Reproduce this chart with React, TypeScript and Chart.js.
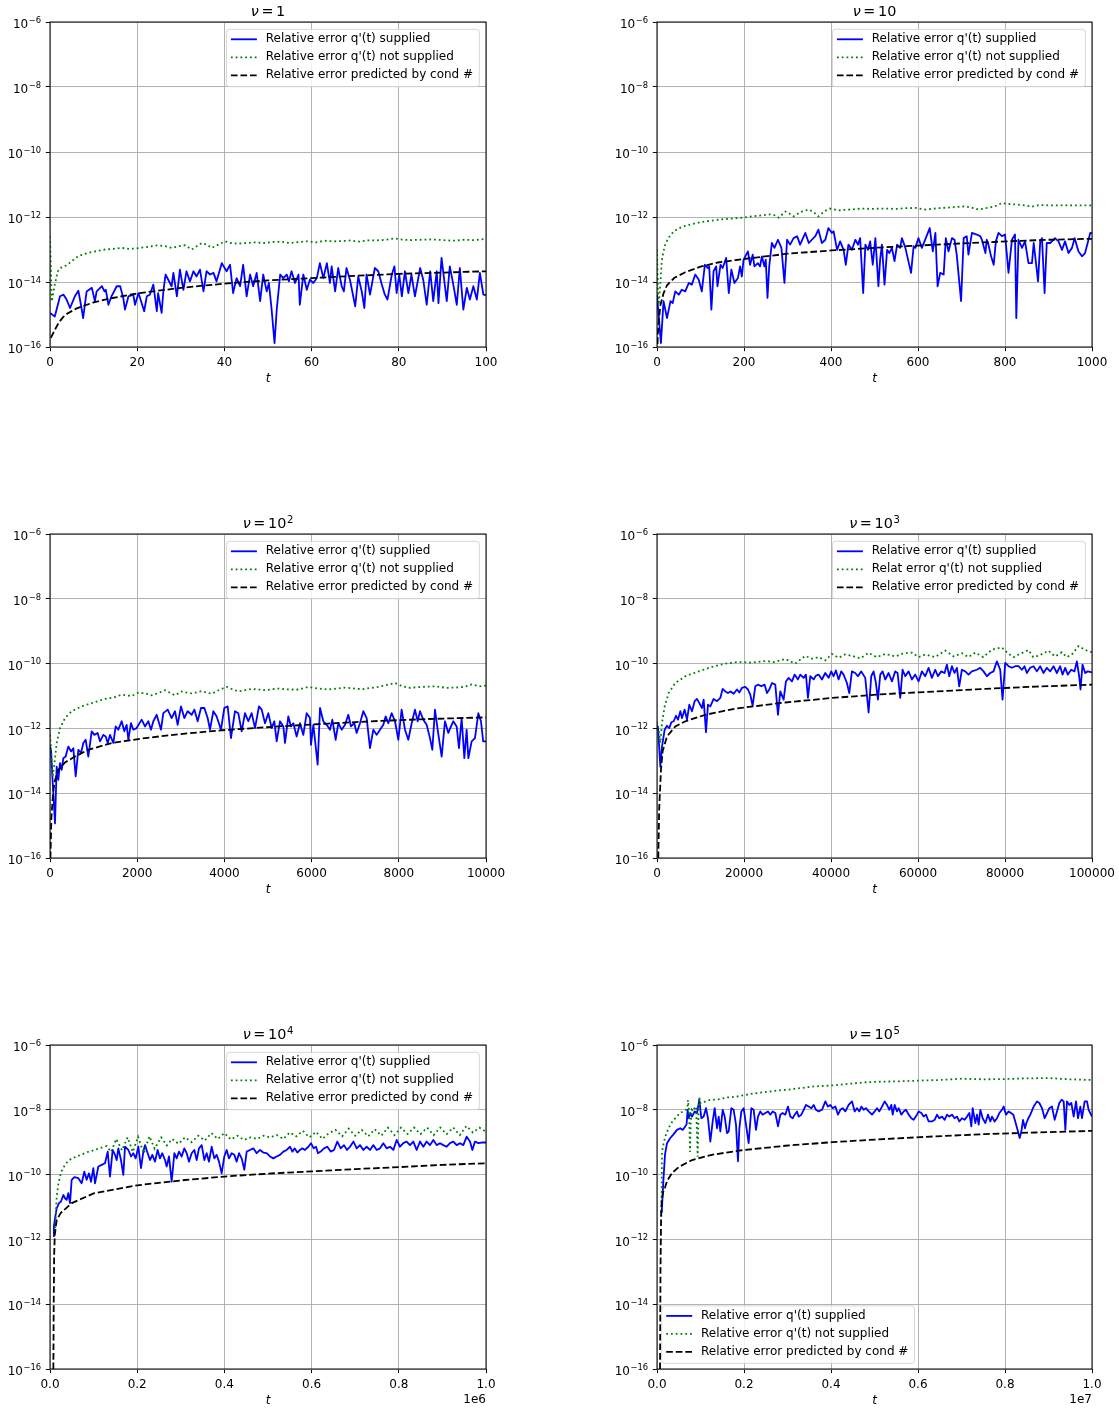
import React, { useEffect, useRef } from "react";
import { Chart, registerables } from "chart.js";

Chart.register(...registerables);

type Pt = [number, number]; // [t, log10(relative error)]

// ---------------- ticks, labels, titles ----------------
const yTickExponents = [-16, -14, -12, -10, -8, -6];

const xTicksNu0 = [0, 20, 40, 60, 80, 100];
const xLabelsNu0 = ["0", "20", "40", "60", "80", "100"];
const xTicksNu1 = [0, 200, 400, 600, 800, 1000];
const xLabelsNu1 = ["0", "200", "400", "600", "800", "1000"];
const xTicksNu2 = [0, 2000, 4000, 6000, 8000, 10000];
const xLabelsNu2 = ["0", "2000", "4000", "6000", "8000", "10000"];
const xTicksNu3 = [0, 20000, 40000, 60000, 80000, 100000];
const xLabelsNu3 = ["0", "20000", "40000", "60000", "80000", "100000"];
const xTicksNu4 = [0, 200000, 400000, 600000, 800000, 1000000];
const xLabelsNu4 = ["0.0", "0.2", "0.4", "0.6", "0.8", "1.0"];
const xTicksNu5 = [0, 2000000, 4000000, 6000000, 8000000, 10000000];
const xLabelsNu5 = ["0.0", "0.2", "0.4", "0.6", "0.8", "1.0"];
const xOffsetLabels = ["", "", "", "", "1e6", "1e7"];

const titleBases = ["1", "10", "10", "10", "10", "10"];
const titleExponents = ["", "", "2", "3", "4", "5"];

const legendLabels = [
  "Relative error q'(t) supplied",
  "Relative error q'(t) not supplied",
  "Relative error predicted by cond #",
];
const legendLabelsNu3 = [
  "Relative error q'(t) supplied",
  "Relat error q'(t) not supplied",
  "Relative error predicted by cond #",
];

// ---------------- nu = 1 ----------------
const nu1Supplied: Pt[] = [
  [0, -14.95], [1.1, -15.06], [2.3, -14.44], [3.1, -14.39], [3.8, -14.54], [4.6, -14.8], [5.7, -14.44], [6.5, -14.27],
  [7.1, -14.7], [7.6, -15.11], [8.4, -14.29], [9.6, -14.18], [10.3, -14.59], [10.7, -14.29], [11.9, -14.13], [12.5, -14.29],
  [12.8, -14.24], [13.4, -14.7], [14.1, -14.44], [15.3, -14.13], [16.1, -14.13], [16.8, -14.49], [17.2, -14.85], [18.0, -14.44],
  [19.1, -14.39], [19.5, -14.7], [20.3, -14.34], [21.6, -14.9], [22.2, -14.44], [22.9, -14.39], [23.7, -14.08], [24.5, -14.9],
  [24.8, -14.34], [25.6, -14.95], [26.0, -14.29], [26.5, -13.77], [27.5, -14.03], [27.9, -14.13], [28.3, -13.72], [29.1, -14.44],
  [29.8, -13.62], [30.6, -14.24], [31.3, -13.67], [32.1, -13.98], [32.9, -13.67], [33.6, -13.83], [34.4, -13.62], [35.2, -14.29],
  [35.9, -13.67], [36.7, -13.77], [37.5, -13.72], [38.2, -13.98], [39.4, -13.42], [40.5, -13.67], [41.3, -13.47], [42.0, -14.34],
  [42.8, -13.88], [43.6, -14.13], [44.3, -13.47], [45.1, -14.44], [45.9, -13.77], [46.6, -14.13], [47.4, -13.72], [48.2, -14.59],
  [48.9, -13.77], [49.7, -14.29], [50.2, -14.03], [50.8, -14.8], [51.5, -15.88], [52.0, -14.85], [52.8, -13.77], [53.5, -13.88],
  [54.3, -13.77], [54.8, -13.98], [55.4, -13.67], [56.2, -14.03], [57.0, -13.77], [57.3, -14.7], [58.1, -13.77], [58.9, -14.24],
  [59.6, -13.93], [60.4, -14.03], [61.2, -13.88], [61.9, -13.42], [62.7, -13.88], [63.5, -13.42], [64.2, -14.03], [64.6, -13.52],
  [65.4, -14.29], [66.1, -13.57], [66.9, -14.13], [67.4, -14.29], [68.0, -13.57], [68.8, -13.93], [70.0, -14.75], [70.7, -13.83],
  [71.5, -14.29], [72.1, -14.8], [72.6, -13.77], [73.4, -14.39], [74.5, -13.57], [75.3, -13.67], [76.1, -14.08], [76.8, -14.39],
  [77.4, -14.54], [78.4, -13.77], [79.0, -13.52], [79.5, -14.34], [80.1, -13.77], [80.7, -14.44], [81.4, -13.67], [82.2, -14.34],
  [82.9, -13.77], [83.7, -14.44], [84.9, -13.57], [85.6, -13.93], [86.4, -14.7], [87.2, -13.67], [87.9, -14.59], [88.7, -13.67],
  [89.1, -14.65], [89.8, -13.26], [91.0, -14.59], [91.7, -13.52], [92.5, -14.08], [93.3, -14.7], [94.0, -13.57], [94.8, -14.85],
  [95.6, -14.18], [96.3, -14.54], [97.1, -14.13], [97.9, -14.54], [98.6, -13.72], [99.4, -14.39], [100, -14.4],
];
const nu1NotSupplied: Pt[] = [
  [0, -12.6], [0.2, -13.6], [0.4, -14.6], [1.1, -14.08], [1.8, -13.67], [2.3, -13.57], [3.4, -13.52], [5.0, -13.36],
  [6.5, -13.2], [8.8, -13.1], [10.3, -13.06], [12.6, -13.0], [14.5, -12.98], [16.4, -12.95], [18, -12.98], [19.5, -12.97],
  [21.8, -12.93], [23.3, -12.9], [24.8, -12.87], [26.4, -12.9], [27.9, -12.95], [29.5, -12.9], [31, -12.87], [32.5, -13.0],
  [34.8, -12.8], [36, -12.85], [37.1, -12.95], [38.6, -12.85], [40.1, -12.75], [41.5, -12.8], [43, -12.82], [45, -12.8],
  [47, -12.78], [49, -12.8], [51, -12.77], [53, -12.76], [55, -12.8], [57, -12.77], [59, -12.75], [61, -12.78], [63, -12.73],
  [65, -12.75], [67, -12.74], [69, -12.72], [71, -12.76], [73, -12.72], [75, -12.72], [77, -12.7], [79, -12.66], [81, -12.7],
  [83, -12.71], [85, -12.7], [87, -12.69], [89, -12.7], [91, -12.72], [93, -12.73], [95, -12.7], [97, -12.71], [99, -12.69],
  [100, -12.67],
];
const nu1Predicted: Pt[] = [
  [0.2, -15.72], [1, -15.5], [2, -15.25], [3, -15.08], [4, -14.97], [6, -14.82], [8, -14.72], [10, -14.63], [14, -14.5],
  [20, -14.35], [30, -14.18], [40, -14.05], [50, -13.95], [60, -13.88], [70, -13.81], [80, -13.75], [90, -13.71], [100, -13.67],
];

// ---------------- nu = 10 ----------------
const nu10Supplied: Pt[] = [
  [0, -14.39], [9, -15.88], [15, -14.59], [23, -15.11], [31, -14.59], [36, -14.65], [42, -14.29], [50, -14.39], [57, -14.24],
  [65, -14.29], [73, -14.03], [80, -14.08], [88, -13.77], [96, -13.93], [103, -14.29], [110, -13.47], [117, -13.57], [120, -13.52],
  [125, -14.85], [130, -13.67], [136, -13.52], [139, -14.13], [146, -13.47], [151, -13.57], [159, -13.26], [165, -14.34],
  [171, -13.62], [178, -14.03], [186, -13.88], [191, -13.52], [195, -13.83], [199, -13.31], [209, -13.06], [214, -13.47],
  [220, -13.16], [224, -13.52], [232, -13.42], [237, -13.52], [241, -13.21], [247, -13.52], [250, -13.31], [254, -14.49],
  [258, -13.52], [264, -12.8], [270, -12.95], [278, -12.7], [286, -12.95], [293, -14.03], [299, -12.7], [306, -12.85],
  [314, -12.65], [322, -12.59], [329, -12.85], [341, -12.49], [349, -12.8], [356, -12.7], [364, -12.59], [371, -12.39],
  [379, -12.8], [387, -12.7], [394, -12.34], [402, -12.49], [406, -12.44], [414, -13.01], [421, -12.75], [429, -13.01],
  [434, -13.47], [440, -12.85], [448, -13.01], [456, -12.7], [462, -12.85], [467, -12.65], [474, -14.34], [479, -12.85],
  [485, -13.01], [490, -12.75], [496, -13.47], [502, -12.65], [509, -14.13], [513, -13.31], [517, -12.85], [523, -14.08],
  [529, -13.01], [534, -13.11], [540, -12.95], [546, -13.36], [552, -12.85], [559, -12.95], [563, -12.65], [571, -12.95],
  [584, -13.72], [590, -12.9], [594, -12.95], [601, -12.65], [609, -12.95], [627, -12.34], [634, -13.06], [640, -12.49],
  [645, -14.13], [651, -13.72], [659, -13.77], [664, -12.65], [670, -13.06], [678, -12.65], [684, -12.7], [689, -13.16],
  [699, -14.59], [705, -12.65], [712, -12.59], [716, -13.16], [724, -12.49], [735, -12.54], [743, -12.59], [747, -12.7],
  [755, -13.11], [758, -12.7], [762, -12.85], [768, -13.21], [774, -13.47], [779, -12.75], [785, -12.49], [793, -12.59],
  [800, -12.54], [804, -13.11], [808, -13.72], [816, -12.7], [823, -12.54], [826, -15.11], [831, -12.7], [839, -12.95],
  [846, -12.75], [854, -13.42], [862, -13.42], [866, -12.8], [876, -13.98], [881, -12.75], [885, -12.65], [891, -14.34],
  [896, -12.8], [904, -12.8], [915, -12.65], [923, -12.75], [931, -13.01], [938, -12.75], [946, -13.11], [954, -12.95],
  [960, -12.65], [969, -13.06], [977, -13.21], [984, -13.11], [996, -12.49], [1000, -12.5],
];
const nu10NotSupplied: Pt[] = [
  [0, -13.0], [2, -14.2], [4, -14.7], [8, -14.0], [11, -13.35], [15, -13.05], [19, -12.85], [25, -12.68], [31, -12.55],
  [40, -12.43], [50, -12.35], [65, -12.27], [80, -12.22], [100, -12.16], [126, -12.11], [150, -12.07], [172, -12.05],
  [203, -12.01], [225, -11.97], [241, -11.95], [260, -11.92], [272, -11.95], [280, -12.02], [295, -11.83], [305, -11.9],
  [314, -11.98], [330, -11.85], [349, -11.77], [360, -11.85], [371, -11.98], [385, -11.82], [398, -11.74], [417, -11.8],
  [430, -11.78], [448, -11.77], [470, -11.74], [494, -11.75], [525, -11.74], [550, -11.75], [571, -11.73], [595, -11.72],
  [617, -11.77], [647, -11.73], [680, -11.7], [709, -11.67], [725, -11.72], [739, -11.77], [755, -11.73], [775, -11.68],
  [793, -11.57], [810, -11.6], [831, -11.62], [850, -11.65], [862, -11.68], [880, -11.63], [900, -11.64], [938, -11.64],
  [970, -11.64], [1000, -11.64],
];
const nu10Predicted: Pt[] = [
  [0.5, -16.2], [2, -15.6], [4, -15.2], [8, -14.7], [15, -14.35], [23, -14.1], [40, -13.87], [65, -13.7], [100, -13.53],
  [140, -13.4], [195, -13.3], [300, -13.13], [400, -13.03], [525, -12.93], [600, -12.88], [750, -12.78], [900, -12.7],
  [1000, -12.67],
];

// ---------------- nu = 10^2 ----------------
const nu100Supplied: Pt[] = [
  [0, -12.55], [23, -12.66], [54, -13.48], [76, -14.0], [115, -14.93], [153, -13.18], [191, -13.59], [229, -13.07],
  [268, -13.28], [306, -12.92], [359, -12.87], [420, -12.56], [482, -12.71], [535, -12.61], [589, -13.48], [650, -12.66],
  [711, -12.76], [765, -12.45], [818, -12.35], [879, -12.87], [956, -12.09], [1017, -12.2], [1093, -12.14], [1147, -12.4],
  [1223, -12.2], [1277, -12.25], [1323, -12.45], [1376, -12.2], [1453, -12.45], [1506, -11.94], [1567, -12.04], [1644, -11.78],
  [1705, -12.09], [1758, -11.89], [1797, -12.35], [1858, -11.84], [1911, -12.04], [1988, -11.99], [2102, -11.73], [2179, -11.94],
  [2255, -11.78], [2316, -12.04], [2370, -11.78], [2446, -11.58], [2546, -12.04], [2599, -11.53], [2699, -11.42], [2790, -11.68],
  [2867, -11.47], [2928, -11.89], [3004, -11.32], [3081, -11.68], [3157, -11.47], [3249, -11.58], [3310, -11.42], [3387, -11.78],
  [3463, -11.37], [3540, -11.37], [3616, -11.68], [3670, -12.04], [3746, -11.47], [3823, -11.63], [3922, -12.04], [3998, -11.37],
  [4075, -11.32], [4151, -12.3], [4243, -11.47], [4319, -11.53], [4396, -12.09], [4472, -11.53], [4549, -11.78], [4625, -11.53],
  [4702, -11.99], [4793, -11.32], [4855, -11.42], [4931, -11.84], [5008, -11.53], [5084, -11.99], [5145, -11.78], [5199, -12.4],
  [5275, -11.78], [5352, -11.94], [5390, -12.45], [5466, -11.63], [5527, -11.94], [5581, -11.84], [5657, -12.25], [5734, -11.84],
  [5810, -12.2], [5887, -11.53], [5963, -11.68], [5986, -12.51], [6040, -11.89], [6139, -13.12], [6193, -11.37], [6269, -11.78],
  [6345, -11.89], [6422, -12.04], [6475, -11.73], [6552, -12.35], [6613, -11.84], [6690, -12.04], [6766, -11.89], [6842, -11.58],
  [6903, -11.94], [6980, -11.84], [7033, -12.14], [7110, -11.84], [7186, -11.47], [7263, -11.68], [7339, -12.61], [7416, -12.04],
  [7492, -12.2], [7569, -12.04], [7645, -11.89], [7698, -11.63], [7760, -11.84], [7836, -11.53], [7913, -11.78], [7989, -12.35],
  [8065, -11.42], [8142, -12.04], [8218, -12.35], [8295, -11.84], [8371, -11.42], [8432, -11.78], [8486, -11.47], [8562, -11.73],
  [8639, -11.89], [8715, -12.3], [8769, -12.66], [8830, -11.42], [8891, -12.04], [8983, -12.87], [9059, -11.78], [9136, -12.14],
  [9197, -11.94], [9250, -11.78], [9327, -11.94], [9380, -12.61], [9441, -11.68], [9503, -12.92], [9556, -12.04], [9595, -12.92],
  [9671, -12.4], [9747, -12.3], [9824, -11.53], [9885, -11.78], [9935, -12.4], [10000, -12.4],
];
const nu100NotSupplied: Pt[] = [
  [0, -12.2], [25, -12.65], [60, -13.5], [100, -13.1], [153, -12.45], [229, -12.0], [344, -11.68], [497, -11.47],
  [726, -11.32], [956, -11.22], [1261, -11.09], [1450, -11.05], [1644, -10.96], [1873, -11.0], [2026, -10.9], [2200, -10.92],
  [2332, -10.98], [2500, -10.9], [2637, -10.82], [2750, -10.9], [2867, -10.98], [3020, -10.86], [3150, -10.9], [3249, -10.92],
  [3478, -10.85], [3600, -10.9], [3708, -10.93], [3900, -10.8], [4052, -10.72], [4200, -10.8], [4319, -10.86], [4625, -10.78],
  [4931, -10.82], [5237, -10.77], [5500, -10.8], [5696, -10.8], [5925, -10.72], [6150, -10.77], [6384, -10.8], [6766, -10.74],
  [7148, -10.79], [7530, -10.72], [7913, -10.6], [8050, -10.68], [8218, -10.75], [8524, -10.72], [8830, -10.7], [9100, -10.75],
  [9289, -10.74], [9500, -10.72], [9671, -10.64], [9850, -10.7], [10000, -10.68],
];
const nu100Predicted: Pt[] = [
  [5, -16.3], [30, -14.8], [60, -14.2], [80, -13.9], [115, -13.6], [191, -13.28], [344, -13.05], [573, -12.87], [879, -12.66],
  [1414, -12.45], [2179, -12.3], [2943, -12.18], [4014, -12.05], [5237, -11.94], [6384, -11.85], [7530, -11.77],
  [8677, -11.71], [10000, -11.66],
];

// ---------------- nu = 10^3 ----------------
const nu1000Supplied: Pt[] = [
  [0, -11.9], [230, -11.96], [766, -13.18], [1149, -12.56], [1762, -12.04], [2298, -11.92], [2834, -11.99], [3294, -11.81],
  [3830, -11.78], [4366, -11.61], [4826, -11.73], [5362, -11.47], [5745, -11.68], [6358, -11.42], [6894, -11.73], [7430, -11.27],
  [8043, -11.47], [8656, -11.16], [9192, -11.09], [9728, -11.22], [10341, -11.37], [10724, -11.11], [11260, -12.12],
  [11720, -11.27], [12256, -11.32], [13022, -11.09], [13788, -11.16], [14554, -11.06], [15090, -10.78], [15703, -10.86],
  [16316, -10.91], [16929, -10.86], [17618, -10.93], [18384, -10.8], [18920, -10.89], [19533, -10.75], [20299, -10.72],
  [20912, -10.8], [21448, -10.96], [21984, -11.3], [22597, -10.7], [23210, -10.65], [23976, -10.7], [24742, -10.65],
  [25278, -10.91], [25814, -10.8], [26427, -10.6], [27193, -10.65], [27806, -11.58], [28342, -10.86], [29108, -11.11],
  [29644, -10.55], [30257, -10.44], [31023, -10.55], [31636, -10.34], [32402, -10.49], [32938, -10.34], [33704, -10.44],
  [34240, -10.34], [34700, -11.06], [35236, -10.39], [36002, -10.49], [36538, -10.37], [37151, -10.34], [37917, -10.49],
  [38683, -10.29], [39449, -10.44], [40062, -10.24], [40598, -10.39], [41134, -10.21], [41747, -10.49], [42360, -10.24],
  [42896, -10.34], [43662, -10.6], [44198, -10.91], [44811, -10.24], [45577, -10.29], [46190, -10.39], [46956, -10.24],
  [47875, -10.44], [48641, -11.51], [49254, -10.39], [49790, -10.24], [50326, -10.6], [50786, -11.11], [51322, -10.34],
  [51858, -10.24], [52471, -10.49], [53237, -10.29], [54003, -10.55], [54769, -10.24], [55306, -10.29], [55918, -11.06],
  [56454, -10.19], [57067, -10.39], [57833, -10.24], [58599, -10.49], [59365, -10.34], [60131, -10.55], [60897, -10.24],
  [61663, -10.39], [62429, -10.13], [63195, -10.44], [63961, -10.19], [64574, -10.39], [65340, -10.24], [66106, -10.29],
  [66642, -10.03], [67178, -10.39], [67791, -10.08], [68404, -10.29], [68940, -10.13], [69476, -10.7], [70089, -10.19],
  [70855, -10.24], [71621, -10.34], [72387, -10.24], [73536, -10.19], [74302, -10.13], [75068, -10.24], [75834, -10.39],
  [76600, -10.29], [77366, -10.24], [78132, -9.93], [78898, -10.19], [79434, -11.11], [80047, -9.98], [80813, -10.08],
  [81579, -10.13], [82345, -10.08], [83111, -10.08], [83877, -10.19], [84490, -10.08], [85026, -10.29], [85792, -10.13],
  [86558, -10.08], [87324, -10.24], [88090, -10.08], [88856, -10.29], [89622, -10.13], [90388, -10.24], [91154, -10.08],
  [91920, -10.29], [92686, -10.08], [93222, -10.34], [93835, -10.13], [94448, -10.34], [95214, -10.19], [95980, -10.24],
  [96516, -9.93], [97052, -10.39], [97359, -10.8], [97818, -10.03], [98431, -10.29], [99044, -10.24], [100000, -10.27],
];
const nu1000NotSupplied: Pt[] = [
  [0, -11.8], [383, -12.04], [766, -12.45], [1149, -11.84], [1762, -11.32], [2681, -10.91], [4213, -10.6], [6511, -10.39],
  [9575, -10.24], [12639, -10.1], [15703, -10.0], [18767, -9.95], [21831, -9.97], [24895, -9.92], [27000, -9.95],
  [29490, -9.86], [31790, -10.0], [34087, -9.76], [35600, -9.85], [37151, -9.8], [38700, -9.9], [40215, -9.7], [41747, -9.82],
  [43200, -9.72], [44811, -9.76], [46700, -9.84], [48641, -9.67], [50500, -9.8], [52471, -9.7], [54769, -9.78],
  [56700, -9.68], [58599, -9.66], [60100, -9.8], [61663, -9.72], [63900, -9.8], [66259, -9.6], [68200, -9.78], [70089, -9.68],
  [71600, -9.8], [73153, -9.66], [75000, -9.8], [76983, -9.57], [79281, -9.5], [80813, -9.7], [82000, -9.8], [83111, -9.72],
  [85409, -9.58], [86500, -9.8], [87707, -9.76], [90005, -9.6], [91500, -9.78], [93069, -9.65], [94200, -9.8], [95367, -9.72],
  [96899, -9.46], [98400, -9.58], [100000, -9.65],
];
const nu1000Predicted: Pt[] = [
  [250, -16.3], [500, -14.5], [900, -13.3], [1300, -12.7], [2300, -12.25], [4213, -11.94], [6511, -11.78], [11107, -11.58],
  [18000, -11.39], [29490, -11.2], [40215, -11.06], [52471, -10.94], [63961, -10.86], [75451, -10.78], [86941, -10.71],
  [100000, -10.65],
];

// ---------------- nu = 10^4 ----------------
const nu1e4Supplied: Pt[] = [
  [7000, -11.9], [9000, -11.6], [11500, -11.35], [15300, -11.04], [20600, -10.88], [25200, -10.83], [30600, -10.63],
  [34400, -10.73], [38200, -10.78], [42000, -10.57], [45900, -10.88], [49700, -10.16], [55800, -10.08], [65000, -10.11],
  [72600, -10.27], [78700, -9.91], [84100, -10.16], [89400, -9.96], [94000, -10.22], [99400, -9.8], [103200, -10.27],
  [110900, -9.75], [118500, -9.7], [126100, -9.65], [132300, -9.29], [137600, -10.06], [143700, -9.24], [149100, -9.39],
  [152900, -9.55], [156700, -9.19], [162800, -9.55], [168200, -10.01], [172000, -9.14], [179700, -9.24], [185800, -9.44],
  [191100, -9.34], [196500, -9.5], [202600, -9.14], [208700, -9.8], [214100, -9.29], [217900, -9.09], [224000, -9.34],
  [229400, -9.55], [234700, -9.39], [240800, -9.6], [246900, -9.24], [252300, -9.5], [257600, -9.34], [263800, -9.55],
  [267600, -9.75], [272900, -9.44], [279000, -10.22], [285200, -9.34], [290500, -9.5], [295900, -9.29], [302000, -9.44],
  [308100, -9.19], [313500, -9.34], [318800, -9.6], [324900, -9.34], [331000, -9.24], [336400, -9.55], [341700, -9.19],
  [347900, -9.09], [354000, -9.55], [359300, -9.34], [364700, -9.6], [370800, -9.14], [376900, -9.5], [382300, -9.39],
  [387600, -9.6], [393700, -9.96], [399800, -9.44], [405200, -9.24], [410600, -9.5], [416700, -9.34], [422800, -9.39],
  [428100, -9.6], [433500, -9.34], [439600, -9.5], [445700, -9.85], [451100, -9.29], [458700, -9.24], [466400, -9.19],
  [474000, -9.34], [481700, -9.24], [489300, -9.32], [496900, -9.34], [504600, -9.44], [512200, -9.5], [519900, -9.44],
  [527500, -9.39], [535200, -9.29], [542800, -9.24], [550500, -9.14], [555800, -9.29], [561200, -9.19], [567300, -9.32],
  [573400, -9.24], [578700, -9.19], [584900, -9.24], [592500, -9.14], [598600, -9.03], [604700, -9.19], [610100, -9.14],
  [614700, -9.34], [620800, -9.29], [628400, -9.19], [636100, -9.14], [643700, -9.29], [651400, -9.24], [659000, -8.98],
  [666700, -9.19], [674300, -9.09], [681300, -9.24], [688100, -9.14], [696100, -8.98], [703400, -9.19], [711000, -9.09],
  [718700, -9.24], [726300, -9.14], [733900, -9.24], [741600, -9.09], [749200, -9.24], [756900, -9.19], [764500, -9.03],
  [772200, -9.19], [779800, -9.14], [787500, -9.24], [795100, -8.93], [802800, -9.14], [810400, -9.03], [818000, -8.98],
  [825700, -9.09], [833300, -8.98], [841000, -9.24], [848600, -8.98], [856300, -9.14], [863900, -8.98], [871600, -9.09],
  [879200, -8.93], [886900, -9.09], [894500, -9.03], [902100, -9.09], [909800, -9.14], [917400, -9.03], [925100, -8.98],
  [932700, -9.09], [940400, -9.03], [948000, -9.09], [955700, -8.83], [963300, -8.98], [968700, -9.24], [974800, -8.98],
  [982400, -9.03], [990100, -9.01], [1000000, -9.01],
];
const nu1e4NotSupplied: Pt[] = [
  [11500, -11.8], [15300, -10.68], [19000, -10.3], [23000, -10.06], [28000, -9.85], [34400, -9.7], [42000, -9.58],
  [49700, -9.5], [60000, -9.45], [72600, -9.38], [87000, -9.3], [100000, -9.25], [115000, -9.18], [130000, -9.12],
  [140000, -9.3], [152000, -8.9], [165000, -9.25], [178000, -8.85], [190000, -9.3], [202000, -8.83], [215000, -9.35],
  [228000, -8.82], [240000, -9.2], [255000, -8.85], [268000, -9.1], [280000, -8.9], [295000, -9.05], [310000, -8.85],
  [325000, -9.0], [340000, -8.8], [355000, -8.95], [370000, -8.72], [385000, -8.9], [400000, -8.72], [415000, -8.92],
  [430000, -8.8], [445000, -8.93], [460000, -8.85], [475000, -8.9], [490000, -8.8], [505000, -8.85], [520000, -8.78],
  [535000, -8.9], [550000, -8.7], [565000, -8.82], [580000, -8.65], [595000, -8.85], [610000, -8.68], [625000, -8.9],
  [640000, -8.72], [655000, -8.62], [670000, -8.82], [685000, -8.58], [700000, -8.8], [715000, -8.62], [730000, -8.82],
  [745000, -8.6], [760000, -8.8], [775000, -8.55], [790000, -8.78], [805000, -8.55], [820000, -8.75], [835000, -8.55],
  [850000, -8.75], [865000, -8.55], [880000, -8.78], [895000, -8.55], [910000, -8.75], [925000, -8.55], [940000, -8.78],
  [955000, -8.5], [970000, -8.7], [985000, -8.55], [1000000, -8.68],
];
const nu1e4Predicted: Pt[] = [
  [7600, -16.3], [8500, -14.0], [9500, -12.5], [11000, -11.85], [15300, -11.4], [25000, -11.18], [50000, -10.88],
  [100000, -10.58], [200000, -10.33], [300000, -10.18], [400000, -10.06], [500000, -9.97], [600000, -9.9], [700000, -9.83],
  [800000, -9.77], [900000, -9.7], [1000000, -9.65],
];

// ---------------- nu = 10^5 ----------------
const nu1e5Supplied: Pt[] = [
  [108000, -11.19], [146000, -10.2], [184000, -9.38], [230000, -9.03], [306000, -8.87], [383000, -8.75], [460000, -8.62],
  [536000, -8.57], [590000, -8.62], [636000, -8.54], [680000, -8.45], [705000, -8.0], [728000, -8.26], [766000, -8.1],
  [805000, -8.21], [866000, -8.05], [920000, -8.1], [973000, -7.69], [1019000, -8.26], [1073000, -8.21], [1126000, -7.95],
  [1172000, -8.26], [1226000, -8.98], [1280000, -8.36], [1326000, -7.95], [1379000, -8.57], [1418000, -8.21],
  [1456000, -8.67], [1510000, -8.0], [1556000, -8.21], [1609000, -8.72], [1648000, -8.67], [1709000, -7.95], [1762000, -8.0],
  [1816000, -8.46], [1862000, -9.59], [1893000, -8.57], [1939000, -8.05], [1992000, -7.95], [2046000, -8.46],
  [2107000, -9.03], [2169000, -7.95], [2222000, -8.0], [2276000, -8.62], [2322000, -8.21], [2375000, -8.05],
  [2429000, -8.15], [2490000, -8.1], [2552000, -8.05], [2605000, -8.15], [2659000, -8.05], [2720000, -8.1], [2782000, -8.51],
  [2835000, -8.15], [2889000, -8.1], [2950000, -8.15], [3011000, -7.9], [3065000, -8.21], [3119000, -8.26], [3165000, -8.15],
  [3218000, -8.05], [3257000, -8.21], [3318000, -8.15], [3372000, -8.0], [3425000, -7.85], [3487000, -7.9], [3548000, -7.95],
  [3601000, -7.85], [3655000, -8.0], [3716000, -8.05], [3793000, -8.0], [3870000, -7.74], [3931000, -7.9], [3985000, -7.85],
  [4038000, -7.95], [4100000, -7.9], [4161000, -8.15], [4215000, -8.0], [4268000, -7.95], [4330000, -8.05], [4406000, -7.85],
  [4483000, -7.74], [4544000, -8.05], [4598000, -7.95], [4651000, -8.05], [4697000, -7.9], [4751000, -8.0], [4805000, -7.95],
  [4866000, -8.05], [4943000, -8.15], [5004000, -8.05], [5057000, -7.95], [5111000, -8.05], [5172000, -7.9], [5234000, -7.74],
  [5287000, -7.85], [5341000, -8.0], [5387000, -7.85], [5418000, -8.15], [5464000, -7.85], [5517000, -8.05], [5556000, -7.95],
  [5617000, -8.15], [5670000, -8.05], [5724000, -8.0], [5785000, -8.15], [5847000, -8.26], [5900000, -8.31], [5977000, -8.15],
  [6015000, -8.05], [6077000, -8.1], [6130000, -8.21], [6184000, -8.15], [6245000, -8.36], [6322000, -8.36], [6383000, -8.31],
  [6437000, -8.15], [6490000, -8.26], [6552000, -8.21], [6613000, -8.31], [6667000, -8.15], [6720000, -8.21], [6782000, -8.15],
  [6843000, -8.26], [6897000, -8.21], [6950000, -8.36], [7011000, -8.26], [7073000, -8.31], [7126000, -8.21], [7180000, -8.1],
  [7226000, -8.51], [7257000, -7.95], [7318000, -8.41], [7356000, -8.15], [7395000, -8.46], [7433000, -8.0], [7487000, -8.26],
  [7548000, -8.41], [7609000, -8.15], [7663000, -8.36], [7701000, -8.21], [7762000, -8.36], [7816000, -8.26], [7870000, -8.1],
  [7931000, -8.0], [7969000, -7.9], [8023000, -8.15], [8084000, -8.05], [8138000, -8.1], [8192000, -8.15], [8245000, -8.41],
  [8299000, -8.67], [8337000, -8.87], [8376000, -8.67], [8414000, -8.31], [8460000, -8.57], [8491000, -8.41], [8537000, -8.26],
  [8582000, -8.15], [8659000, -7.9], [8736000, -7.74], [8789000, -7.79], [8851000, -7.95], [8912000, -8.26], [8966000, -8.1],
  [9019000, -7.95], [9080000, -7.9], [9142000, -8.31], [9195000, -8.05], [9249000, -7.79], [9303000, -7.69], [9349000, -7.74],
  [9387000, -8.62], [9425000, -7.74], [9479000, -7.85], [9525000, -7.79], [9579000, -8.21], [9632000, -7.74], [9678000, -8.26],
  [9732000, -7.9], [9770000, -8.26], [9831000, -7.74], [9885000, -7.74], [9923000, -8.0], [10000000, -8.21],
];
const nu1e5NotSupplied: Pt[] = [
  [100000, -11.3], [108000, -10.5], [115000, -9.3], [150000, -9.05], [192000, -8.82], [250000, -8.62], [306000, -8.46],
  [360000, -8.35], [421000, -8.26], [480000, -8.17], [536000, -8.1], [600000, -8.05], [651000, -8.02], [700000, -7.95],
  [713000, -7.7], [740000, -8.1], [758000, -9.3], [775000, -8.4], [800000, -8.0], [830000, -8.05], [860000, -7.95],
  [900000, -7.9], [935000, -9.45], [955000, -8.1], [970000, -7.6], [1000000, -7.8], [1100000, -7.75], [1200000, -7.7],
  [1400000, -7.68], [1600000, -7.62], [1800000, -7.6], [2000000, -7.55], [2200000, -7.5], [2500000, -7.45], [2800000, -7.4],
  [3000000, -7.38], [3300000, -7.33], [3600000, -7.28], [4000000, -7.25], [4400000, -7.2], [4800000, -7.15],
  [5200000, -7.13], [5600000, -7.12], [6000000, -7.1], [6500000, -7.08], [7000000, -7.04], [7500000, -7.06],
  [8000000, -7.05], [8500000, -7.03], [9000000, -7.02], [9500000, -7.06], [10000000, -7.08],
];
const nu1e5Predicted: Pt[] = [
  [69000, -16.3], [80000, -13.0], [95000, -11.2], [110000, -10.8], [140000, -10.55], [184000, -10.4], [230000, -10.2],
  [345000, -9.95], [498000, -9.77], [805000, -9.55], [1260000, -9.39], [1880000, -9.26], [2950000, -9.11], [4020000, -9.0],
  [5250000, -8.9], [6400000, -8.82], [7550000, -8.75], [8700000, -8.7], [10000000, -8.65],
];

// ---------------- panel layout ----------------
type PanelCfg = {
  left: number; top: number; w: number; h: number; padRight: number; padBottom: number;
  xMax: number; xTicks: number[]; xLabels: string[]; xOffset: string;
  titleBase: string; titleExp: string; legend: string[]; legendLoc: "ur" | "ll";
  supplied: Pt[]; notSupplied: Pt[]; predicted: Pt[];
};

const panels: PanelCfg[] = [
  { left: 0, top: 0, w: 560, h: 400, padRight: 74, padBottom: 13, xMax: 100, xTicks: xTicksNu0, xLabels: xLabelsNu0,
    xOffset: xOffsetLabels[0], titleBase: titleBases[0], titleExp: titleExponents[0], legend: legendLabels, legendLoc: "ur",
    supplied: nu1Supplied, notSupplied: nu1NotSupplied, predicted: nu1Predicted },
  { left: 607, top: 0, w: 512, h: 400, padRight: 27, padBottom: 13, xMax: 1000, xTicks: xTicksNu1, xLabels: xLabelsNu1,
    xOffset: xOffsetLabels[1], titleBase: titleBases[1], titleExp: titleExponents[1], legend: legendLabels, legendLoc: "ur",
    supplied: nu10Supplied, notSupplied: nu10NotSupplied, predicted: nu10Predicted },
  { left: 0, top: 512, w: 560, h: 400, padRight: 74, padBottom: 14, xMax: 10000, xTicks: xTicksNu2, xLabels: xLabelsNu2,
    xOffset: xOffsetLabels[2], titleBase: titleBases[2], titleExp: titleExponents[2], legend: legendLabels, legendLoc: "ur",
    supplied: nu100Supplied, notSupplied: nu100NotSupplied, predicted: nu100Predicted },
  { left: 607, top: 512, w: 512, h: 400, padRight: 27, padBottom: 14, xMax: 100000, xTicks: xTicksNu3, xLabels: xLabelsNu3,
    xOffset: xOffsetLabels[3], titleBase: titleBases[3], titleExp: titleExponents[3], legend: legendLabelsNu3, legendLoc: "ur",
    supplied: nu1000Supplied, notSupplied: nu1000NotSupplied, predicted: nu1000Predicted },
  { left: 0, top: 1023, w: 560, h: 387, padRight: 74, padBottom: 1, xMax: 1000000, xTicks: xTicksNu4, xLabels: xLabelsNu4,
    xOffset: xOffsetLabels[4], titleBase: titleBases[4], titleExp: titleExponents[4], legend: legendLabels, legendLoc: "ur",
    supplied: nu1e4Supplied, notSupplied: nu1e4NotSupplied, predicted: nu1e4Predicted },
  { left: 607, top: 1023, w: 512, h: 387, padRight: 27, padBottom: 1, xMax: 10000000, xTicks: xTicksNu5, xLabels: xLabelsNu5,
    xOffset: xOffsetLabels[5], titleBase: titleBases[5], titleExp: titleExponents[5], legend: legendLabels, legendLoc: "ll",
    supplied: nu1e5Supplied, notSupplied: nu1e5NotSupplied, predicted: nu1e5Predicted },
];

// ---------------- drawing helpers ----------------
const FAMILY = '"DejaVu Sans", "Liberation Sans", sans-serif';
const fontStr = (size: number, italic?: boolean) => `${italic ? "italic " : ""}${size}px ${FAMILY}`;
const BASE = 12; // base text size
const LW = 1.8; // data line width

type Run = { text: string; size: number; italic?: boolean; dy?: number; gap?: number };

function drawRuns(ctx: CanvasRenderingContext2D, runs: Run[], x: number, baseline: number, align: "left" | "center" | "right") {
  let w = 0;
  for (const r of runs) {
    ctx.font = fontStr(r.size, r.italic);
    w += (r.gap || 0) + ctx.measureText(r.text).width;
  }
  let cx = align === "right" ? x - w : align === "center" ? x - w / 2 : x;
  ctx.textAlign = "left";
  ctx.textBaseline = "alphabetic";
  ctx.fillStyle = "#000";
  for (const r of runs) {
    ctx.font = fontStr(r.size, r.italic);
    cx += r.gap || 0;
    ctx.fillText(r.text, cx, baseline + (r.dy || 0));
    cx += ctx.measureText(r.text).width;
  }
}

function roundRectPath(ctx: CanvasRenderingContext2D, x: number, y: number, w: number, h: number, r: number) {
  ctx.beginPath();
  ctx.moveTo(x + r, y);
  ctx.lineTo(x + w - r, y);
  ctx.arcTo(x + w, y, x + w, y + r, r);
  ctx.lineTo(x + w, y + h - r);
  ctx.arcTo(x + w, y + h, x + w - r, y + h, r);
  ctx.lineTo(x + r, y + h);
  ctx.arcTo(x, y + h, x, y + h - r, r);
  ctx.lineTo(x, y + r);
  ctx.arcTo(x, y, x + r, y, r);
  ctx.closePath();
}

const seriesStyles = [
  { color: "#0000ff", dash: [] as number[] },
  { color: "#008000", dash: [1.8, 2.97] },
  { color: "#000000", dash: [6.66, 2.88] },
];

function drawLegend(ctx: CanvasRenderingContext2D, area: any, labels: string[], loc: "ur" | "ll") {
  ctx.save();
  ctx.font = fontStr(BASE);
  const textW = Math.max(...labels.map((l) => ctx.measureText(l).width));
  const boxW = textW + 45.5;
  const boxH = 57.4;
  const boxL = loc === "ur" ? area.right - 6.7 - boxW : area.left + 4.7;
  const boxT = loc === "ur" ? area.top + 7.3 : area.bottom - 5.7 - boxH;
  roundRectPath(ctx, boxL, boxT, boxW, boxH, 3);
  ctx.fillStyle = "rgba(255,255,255,0.8)";
  ctx.fill();
  ctx.strokeStyle = "rgba(204,204,204,0.8)";
  ctx.lineWidth = 1;
  ctx.stroke();
  labels.forEach((lab, i) => {
    const y = boxT + 10 + i * 18;
    ctx.beginPath();
    ctx.setLineDash(seriesStyles[i].dash);
    ctx.strokeStyle = seriesStyles[i].color;
    ctx.lineWidth = LW;
    ctx.moveTo(boxL + 4.5, y);
    ctx.lineTo(boxL + 30.5, y);
    ctx.stroke();
    ctx.setLineDash([]);
    ctx.fillStyle = "#000";
    ctx.font = fontStr(BASE);
    ctx.textAlign = "left";
    ctx.textBaseline = "middle";
    ctx.fillText(lab, boxL + 39.3, y);
  });
  ctx.restore();
}

const toPoints = (arr: Pt[]) => arr.map(([t, e]) => ({ x: t, y: Math.pow(10, e) }));

function buildConfig(cfg: PanelCfg): any {
  const decoPlugin = {
    id: "deco",
    afterDraw(chart: any) {
      const ctx: CanvasRenderingContext2D = chart.ctx;
      const area = chart.chartArea;
      const xs = chart.scales.x;
      const ys = chart.scales.y;
      ctx.save();
      // spines
      ctx.strokeStyle = "#000";
      ctx.lineWidth = 1;
      ctx.setLineDash([]);
      ctx.strokeRect(area.left, area.top, area.right - area.left, area.bottom - area.top);
      // legend
      drawLegend(ctx, area, cfg.legend, cfg.legendLoc);
      // y tick labels
      yTickExponents.forEach((e) => {
        const y = ys.getPixelForValue(Math.pow(10, e));
        drawRuns(ctx, [
          { text: "10", size: BASE },
          { text: "\u2212" + Math.abs(e), size: BASE * 0.7, dy: -5.5, gap: 0.6 },
        ], area.left - 8.8, y + 6.2, "right");
      });
      // x tick labels
      cfg.xTicks.forEach((v, i) => {
        const x = xs.getPixelForValue(v);
        drawRuns(ctx, [{ text: cfg.xLabels[i], size: BASE }], x, area.bottom + 18.8, "center");
      });
      // x axis label
      drawRuns(ctx, [{ text: "t", size: BASE, italic: true }], (area.left + area.right) / 2, area.bottom + 34.5, "center");
      if (cfg.xOffset) drawRuns(ctx, [{ text: cfg.xOffset, size: BASE }], area.right, area.bottom + 34, "right");
      // title
      const T = BASE * 1.2;
      const runs: Run[] = [
        { text: "\u03bd", size: T, italic: true },
        { text: "=", size: T, gap: 2.6 },
        { text: cfg.titleBase, size: T, gap: 2.6 },
      ];
      if (cfg.titleExp) runs.push({ text: cfg.titleExp, size: T * 0.7, dy: -5, gap: 0.6 });
      drawRuns(ctx, runs, (area.left + area.right) / 2, area.top - 6, "center");
      ctx.restore();
    },
  };

  const grid = {
    color: "#b0b0b0",
    lineWidth: 0.96,
    drawTicks: true,
    tickLength: 4.2,
    tickColor: "#000",
    tickWidth: 0.96,
  };

  return {
    type: "line",
    data: {
      datasets: [
        {
          label: cfg.legend[0], data: toPoints(cfg.supplied), borderColor: seriesStyles[0].color, borderWidth: LW,
          pointRadius: 0, tension: 0, fill: false, borderJoinStyle: "round", order: 3,
        },
        {
          label: cfg.legend[1], data: toPoints(cfg.notSupplied), borderColor: seriesStyles[1].color, borderWidth: LW,
          borderDash: seriesStyles[1].dash, pointRadius: 0, tension: 0, fill: false, order: 2,
        },
        {
          label: cfg.legend[2], data: toPoints(cfg.predicted), borderColor: seriesStyles[2].color, borderWidth: LW,
          borderDash: seriesStyles[2].dash, pointRadius: 0, tension: 0, fill: false, order: 1,
        },
      ],
    },
    options: {
      animation: false,
      responsive: false,
      devicePixelRatio: 1,
      parsing: false,
      events: [],
      layout: { padding: { left: 0, right: cfg.padRight, top: 22, bottom: cfg.padBottom } },
      plugins: { legend: { display: false }, tooltip: { enabled: false }, title: { display: false } },
      scales: {
        x: {
          type: "linear",
          min: 0,
          max: cfg.xMax,
          ticks: { display: false },
          grid,
          border: { display: false },
          afterBuildTicks: (s: any) => { s.ticks = cfg.xTicks.map((v) => ({ value: v })); },
          afterFit: (s: any) => { s.height = 40; },
        },
        y: {
          type: "logarithmic",
          min: 1e-16,
          max: 1e-6,
          ticks: { display: false },
          grid,
          border: { display: false },
          afterBuildTicks: (s: any) => { s.ticks = yTickExponents.map((e) => ({ value: Math.pow(10, e) })); },
          afterFit: (s: any) => { s.width = 50; },
        },
      },
    },
    plugins: [decoPlugin],
  };
}

function Panel({ cfg }: { cfg: PanelCfg }) {
  const ref = useRef<HTMLCanvasElement>(null);
  useEffect(() => {
    if (!ref.current) return;
    const chart = new Chart(ref.current, buildConfig(cfg));
    return () => chart.destroy();
  }, [cfg]);
  return (
    <canvas
      ref={ref}
      width={cfg.w}
      height={cfg.h}
      style={{ position: "absolute", left: cfg.left, top: cfg.top, width: cfg.w, height: cfg.h }}
    />
  );
}

export default function App() {
  return (
    <div style={{ position: "absolute", left: 0, top: 0, width: 1119, height: 1410, background: "#fff", overflow: "hidden" }}>
      {panels.map((p, i) => (
        <Panel key={i} cfg={p} />
      ))}
    </div>
  );
}
